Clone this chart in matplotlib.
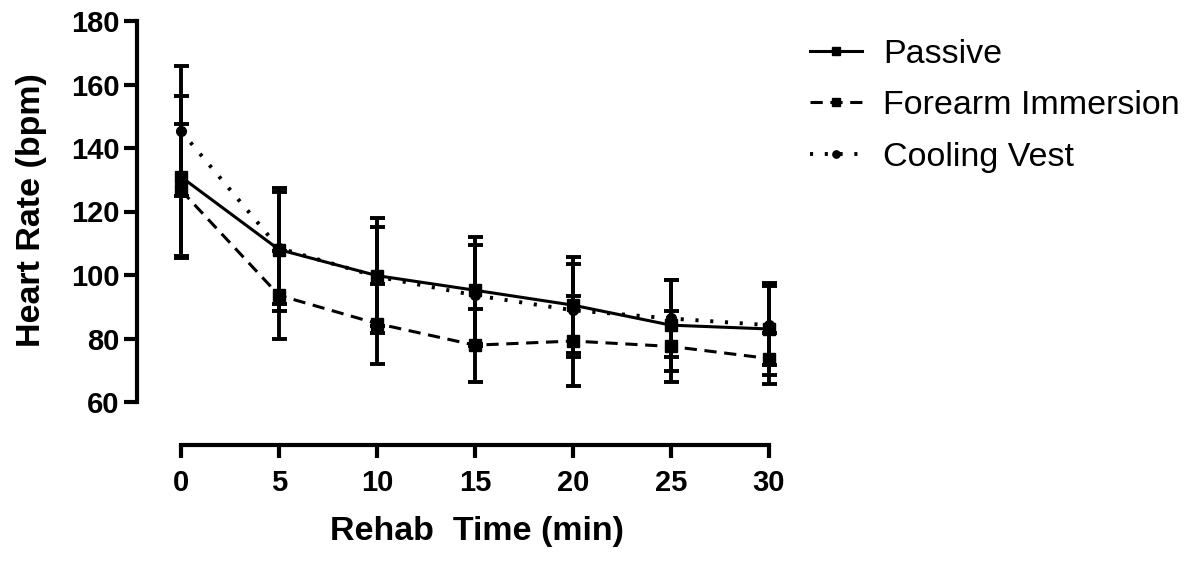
import numpy as np
import matplotlib
matplotlib.use("Agg")
import matplotlib.pyplot as plt

# rehab time (min)
time = [0, 5, 10, 15, 20, 25, 30]

# heart rate means and SD (bpm)
passive = [130.9, 108.0, 99.8, 95.2, 90.5, 84.2, 83.0]
passive_sd = [25.6, 19.4, 18.0, 16.8, 15.2, 14.3, 14.5]
forearm = [126.7, 93.6, 84.7, 77.9, 79.2, 77.5, 73.7]
forearm_sd = [20.8, 13.9, 12.6, 11.5, 14.3, 11.1, 8.1]
cooling = [145.3, 108.5, 99.5, 93.6, 88.9, 86.3, 84.2]
cooling_sd = [20.4, 17.5, 15.6, 16.0, 14.7, 12.2, 12.4]

plt.rcParams['font.family'] = ['Liberation Sans', 'DejaVu Sans']

fig = plt.figure(figsize=(12.02, 5.61), dpi=100)
ax = fig.add_axes([181/1202, 159/561, 588/1202, 381/561])

ebkw = dict(color='k', elinewidth=2.8, capsize=5.4, capthick=2.8, clip_on=False)
ax.errorbar(time, passive, yerr=passive_sd, fmt='s-', lw=2.2, ms=8,
            label='Passive', **ebkw)
ax.errorbar(time, forearm, yerr=forearm_sd, fmt='s', ls=(0, (4, 2.5)), lw=2.2, ms=8,
            label='Forearm Immersion', **ebkw)
ax.errorbar(time, cooling, yerr=cooling_sd, fmt='o', ls=(0, (0.8, 3.0)), lw=2.8, ms=7,
            label='Cooling Vest', **ebkw)

ax.set_xlim(0, 30)
ax.set_ylim(60, 180)
ax.set_xticks(time)
ax.set_yticks([60, 80, 100, 120, 140, 160, 180])

for s in ['top', 'right']:
    ax.spines[s].set_visible(False)
ax.spines['left'].set_position(('outward', 31.7))
ax.spines['bottom'].set_position(('outward', 31))
for s in ['left', 'bottom']:
    ax.spines[s].set_linewidth(3)
ax.tick_params(axis='both', length=9.5, width=3, labelsize=21)
ax.tick_params(axis='y', pad=3)
ax.tick_params(axis='x', pad=8)
for lab in ax.get_xticklabels() + ax.get_yticklabels():
    lab.set_fontweight('bold')

ax.set_ylabel('Heart Rate (bpm)', fontsize=24.5, fontweight='bold')
ax.set_xlabel('Rehab  Time (min)', fontsize=24.5, fontweight='bold')
ax.yaxis.set_label_coords(-0.228, 0.505)
ax.xaxis.set_label_coords(0.503, -0.3)

handles, labels = ax.get_legend_handles_labels()
handles = [h[0] for h in handles]
ax.legend(handles, labels, loc='upper left', bbox_to_anchor=(796/1202, 1 - 25/561),
          bbox_transform=fig.transFigure, frameon=False, fontsize=24.5,
          handlelength=1.55, handletextpad=0.62, labelspacing=0.61, borderaxespad=0,
          markerscale=0.75)

fig.savefig('out.png', dpi=100)
